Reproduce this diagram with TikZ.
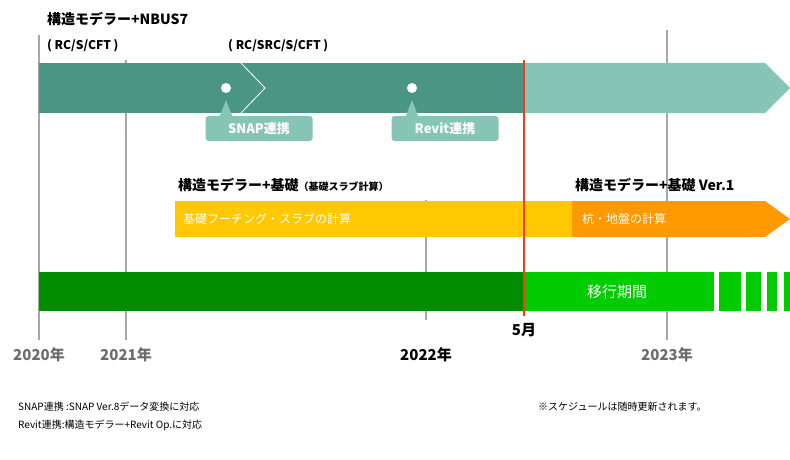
\documentclass[tikz,border=0pt]{standalone}
\usepackage{fontspec}
\setmainfont{Noto Sans CJK JP}
\usetikzlibrary{positioning}
\definecolor{tealdark}{HTML}{4A9583}
\definecolor{teallight}{HTML}{86C4B5}
\definecolor{yellowbar}{HTML}{FFC800}
\definecolor{orangebar}{HTML}{FF9900}
\definecolor{greendark}{HTML}{008E00}
\definecolor{greenlight}{HTML}{00CC00}
\definecolor{redline}{HTML}{F03C14}
\tikzset{
  title/.style={anchor=west, inner sep=0pt, font=\bfseries\fontsize{14}{14}\selectfont},
  sub/.style={anchor=west, inner sep=0pt, font=\bfseries\fontsize{12}{12}\selectfont},
  year/.style={inner sep=0pt, font=\bfseries\fontsize{15}{15}\selectfont, text=gray!85!black},
  bartext/.style={anchor=west, inner sep=0pt, text=white, font=\fontsize{12}{12}\selectfont},
  callout/.style={fill=teallight, rounded corners=3pt, minimum width=107pt, minimum height=25pt, inner sep=0pt, text=white, font=\bfseries\fontsize{13}{13}\selectfont},
  note/.style={anchor=west, inner sep=0pt, font=\fontsize{10}{10}\selectfont},
  grid/.style={gray!70, line width=1.5pt}
}
\begin{document}
\begin{tikzpicture}[x=1pt, y=-1pt]
  \useasboundingbox[fill=white] (0,0) rectangle (790,460);
  % grid lines
  \draw[grid] (39,35) -- (39,340);
  \draw[grid] (126,60) -- (126,340);
  \draw[grid] (426,200) -- (426,320);
  \draw[grid] (667,30) -- (667,340);

  % NBUS7 bar
  \fill[teallight] (524,63) -- (765,63) -- (790,88) -- (765,113) -- (524,113) -- cycle;
  \fill[tealdark] (39,63) rectangle (524,113);
  \draw[white, line width=0.8pt] (241,63) -- (265,88) -- (241,113);
  \node[title] (nbus) at (47,19) {構造モデラー+NBUS7};
  \node[sub] (rcs) at (47,46) {( RC/S/CFT )};
  \node[sub] (rcsrc) at (228,46) {( RC/SRC/S/CFT )};
  \foreach \nm/\px/\txt in {snap/226/SNAP連携, revit/412/Revit連携} {
    \fill[teallight] (\px-7,118) -- (\px,100) -- (\px+7,118) -- cycle;
    \node[callout] (\nm) at (\px+33,128.5) {\txt};
    \fill[white] (\px,88) circle (5pt);
  }

  % kiso bar
  \fill[yellowbar] (175,201) rectangle (572,237);
  \fill[orangebar] (572,201) -- (765,201) -- (790,219) -- (765,237) -- (572,237) -- cycle;
  \node[title] (kiso) at (178,185) {構造モデラー+基礎{\fontsize{10}{10}\selectfont（基礎スラブ計算）}};
  \node[title] (kisover) at (575,185) {構造モデラー+基礎 Ver.1};
  \node[bartext] (footing) at (183,219) {基礎フーチング・スラブの計算};
  \node[bartext] (pile) at (582,219) {杭・地盤の計算};

  % transition bar
  \fill[greendark] (39,272) rectangle (524,311);
  \fill[greenlight] (524,272) rectangle (714,311);
  \foreach \a/\b in {719/741, 746/761, 767/777, 784/790}
    \fill[greenlight] (\a,272) rectangle (\b,311);
  \node[inner sep=0pt, text=white, font=\fontsize{15}{15}\selectfont] (ikou) at (617,292) {移行期間};

  % red line
  \draw[redline, line width=1.5pt] (524,60) -- (524,316);

  % years
  \node[year] (y20) at (39,355) {2020年};
  \node[year] (y21) at (126,355) {2021年};
  \node[year, text=black] (y22) at (426,355) {2022年};
  \node[year, text=black] (may) at (524,330) {5月};
  \node[year] (y23) at (667,355) {2023年};

  % notes
  \node[note] (n1) at (18,407) {SNAP連携 :SNAP Ver.8データ変換に対応};
  \node[note] (n2) at (18,425) {Revit連携:構造モデラー+Revit Op.に対応};
  \node[note] (n3) at (538,407) {※スケジュールは随時更新されます。};
\end{tikzpicture}
\end{document}
